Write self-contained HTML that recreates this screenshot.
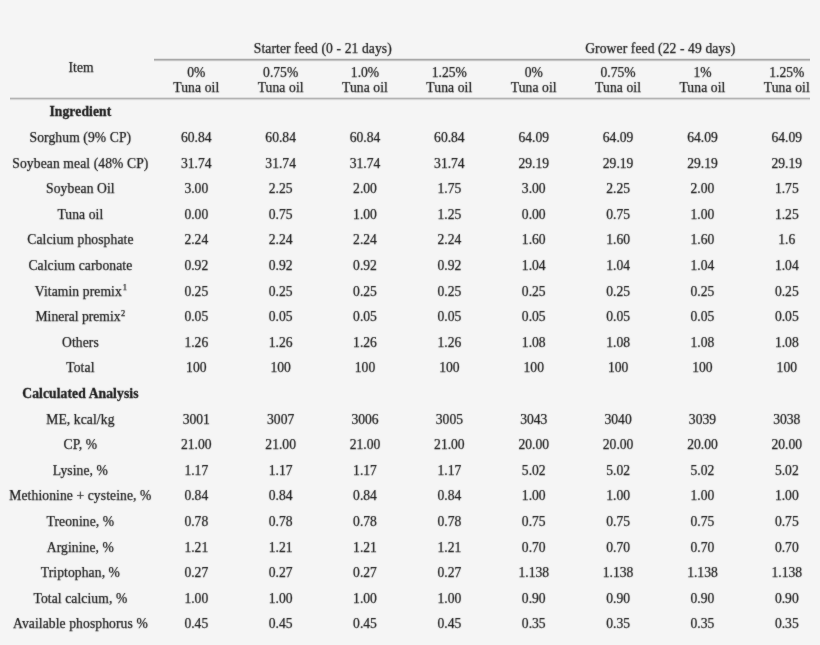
<!DOCTYPE html>
<html><head><meta charset="utf-8"><title>Diet composition table</title><style>
html,body{margin:0;padding:0;background:#f5f5f5}
body{width:820px;height:645px;position:relative;overflow:hidden;font-family:"Liberation Serif",serif;font-size:13.6px;color:#1a1a1a}
#w{position:absolute;left:0;top:0;width:820px;height:645px;filter:url(#soft)}
.c{position:absolute;height:16px;line-height:16px;text-align:center;white-space:nowrap;-webkit-text-stroke:0.25px #1a1a1a}
.c sup{font-size:0.62em;vertical-align:0;position:relative;top:-0.6em;margin-left:1px}
.ln{position:absolute;height:1px}
.l{letter-spacing:0.1px}
.c b{-webkit-text-stroke:0.3px #1a1a1a}

</style></head><body>
<svg width="0" height="0" style="position:absolute"><filter id="soft" x="0" y="0" width="1" height="1" color-interpolation-filters="sRGB"><feConvolveMatrix order="3" kernelMatrix="1 2 1 2 28 2 1 2 1" edgeMode="duplicate"/></filter></svg>
<div class="ln" style="left:154px;top:58px;width:656px;background:#e2e2e2"></div>
<div class="ln" style="left:154px;top:59px;width:656px;background:#a8a8a8"></div>
<div class="ln" style="left:154px;top:60px;width:656px;background:#c4c4c4"></div>
<div class="ln" style="left:154px;top:61px;width:656px;background:#ececec"></div>
<div class="ln" style="left:10px;top:97px;width:800px;background:#dedede"></div>
<div class="ln" style="left:10px;top:98px;width:800px;background:#b3b3b3"></div>
<div class="ln" style="left:10px;top:99px;width:800px;background:#d6d6d6"></div>
<div class="ln" style="left:10px;top:100px;width:800px;background:#f0f0f0"></div>
<div id="w">
<div class="c l" style="left:21.10px;top:60.00px;width:120px">Item</div>
<div class="c l" style="left:222.84px;top:41.00px;width:200px">Starter feed (0 - 21 days)</div>
<div class="c l" style="left:560.28px;top:41.00px;width:200px">Grower feed (22 - 49 days)</div>
<div class="c" style="left:156.30px;top:65.00px;width:80px">0%</div>
<div class="c l" style="left:156.30px;top:80.00px;width:80px">Tuna oil</div>
<div class="c" style="left:240.66px;top:65.00px;width:80px">0.75%</div>
<div class="c l" style="left:240.66px;top:80.00px;width:80px">Tuna oil</div>
<div class="c" style="left:325.02px;top:65.00px;width:80px">1.0%</div>
<div class="c l" style="left:325.02px;top:80.00px;width:80px">Tuna oil</div>
<div class="c" style="left:409.38px;top:65.00px;width:80px">1.25%</div>
<div class="c l" style="left:409.38px;top:80.00px;width:80px">Tuna oil</div>
<div class="c" style="left:493.74px;top:65.00px;width:80px">0%</div>
<div class="c l" style="left:493.74px;top:80.00px;width:80px">Tuna oil</div>
<div class="c" style="left:578.10px;top:65.00px;width:80px">0.75%</div>
<div class="c l" style="left:578.10px;top:80.00px;width:80px">Tuna oil</div>
<div class="c" style="left:662.46px;top:65.00px;width:80px">1%</div>
<div class="c l" style="left:662.46px;top:80.00px;width:80px">Tuna oil</div>
<div class="c" style="left:746.82px;top:65.00px;width:80px">1.25%</div>
<div class="c l" style="left:746.82px;top:80.00px;width:80px">Tuna oil</div>
<div class="c l" style="left:20.40px;top:104.00px;width:120px"><b>Ingredient</b></div>
<div class="c l" style="left:0.40px;top:130.00px;width:160px">Sorghum (9% CP)</div>
<div class="c" style="left:156.30px;top:130.00px;width:80px">60.84</div>
<div class="c" style="left:240.66px;top:130.00px;width:80px">60.84</div>
<div class="c" style="left:325.02px;top:130.00px;width:80px">60.84</div>
<div class="c" style="left:409.38px;top:130.00px;width:80px">60.84</div>
<div class="c" style="left:493.74px;top:130.00px;width:80px">64.09</div>
<div class="c" style="left:578.10px;top:130.00px;width:80px">64.09</div>
<div class="c" style="left:662.46px;top:130.00px;width:80px">64.09</div>
<div class="c" style="left:746.82px;top:130.00px;width:80px">64.09</div>
<div class="c l" style="left:0.40px;top:156.00px;width:160px">Soybean meal (48% CP)</div>
<div class="c" style="left:156.30px;top:156.00px;width:80px">31.74</div>
<div class="c" style="left:240.66px;top:156.00px;width:80px">31.74</div>
<div class="c" style="left:325.02px;top:156.00px;width:80px">31.74</div>
<div class="c" style="left:409.38px;top:156.00px;width:80px">31.74</div>
<div class="c" style="left:493.74px;top:156.00px;width:80px">29.19</div>
<div class="c" style="left:578.10px;top:156.00px;width:80px">29.19</div>
<div class="c" style="left:662.46px;top:156.00px;width:80px">29.19</div>
<div class="c" style="left:746.82px;top:156.00px;width:80px">29.19</div>
<div class="c l" style="left:0.40px;top:181.00px;width:160px">Soybean Oil</div>
<div class="c" style="left:156.30px;top:181.00px;width:80px">3.00</div>
<div class="c" style="left:240.66px;top:181.00px;width:80px">2.25</div>
<div class="c" style="left:325.02px;top:181.00px;width:80px">2.00</div>
<div class="c" style="left:409.38px;top:181.00px;width:80px">1.75</div>
<div class="c" style="left:493.74px;top:181.00px;width:80px">3.00</div>
<div class="c" style="left:578.10px;top:181.00px;width:80px">2.25</div>
<div class="c" style="left:662.46px;top:181.00px;width:80px">2.00</div>
<div class="c" style="left:746.82px;top:181.00px;width:80px">1.75</div>
<div class="c l" style="left:0.40px;top:207.00px;width:160px">Tuna oil</div>
<div class="c" style="left:156.30px;top:207.00px;width:80px">0.00</div>
<div class="c" style="left:240.66px;top:207.00px;width:80px">0.75</div>
<div class="c" style="left:325.02px;top:207.00px;width:80px">1.00</div>
<div class="c" style="left:409.38px;top:207.00px;width:80px">1.25</div>
<div class="c" style="left:493.74px;top:207.00px;width:80px">0.00</div>
<div class="c" style="left:578.10px;top:207.00px;width:80px">0.75</div>
<div class="c" style="left:662.46px;top:207.00px;width:80px">1.00</div>
<div class="c" style="left:746.82px;top:207.00px;width:80px">1.25</div>
<div class="c l" style="left:0.40px;top:232.00px;width:160px">Calcium phosphate</div>
<div class="c" style="left:156.30px;top:232.00px;width:80px">2.24</div>
<div class="c" style="left:240.66px;top:232.00px;width:80px">2.24</div>
<div class="c" style="left:325.02px;top:232.00px;width:80px">2.24</div>
<div class="c" style="left:409.38px;top:232.00px;width:80px">2.24</div>
<div class="c" style="left:493.74px;top:232.00px;width:80px">1.60</div>
<div class="c" style="left:578.10px;top:232.00px;width:80px">1.60</div>
<div class="c" style="left:662.46px;top:232.00px;width:80px">1.60</div>
<div class="c" style="left:746.82px;top:232.00px;width:80px">1.6</div>
<div class="c l" style="left:0.40px;top:258.00px;width:160px">Calcium carbonate</div>
<div class="c" style="left:156.30px;top:258.00px;width:80px">0.92</div>
<div class="c" style="left:240.66px;top:258.00px;width:80px">0.92</div>
<div class="c" style="left:325.02px;top:258.00px;width:80px">0.92</div>
<div class="c" style="left:409.38px;top:258.00px;width:80px">0.92</div>
<div class="c" style="left:493.74px;top:258.00px;width:80px">1.04</div>
<div class="c" style="left:578.10px;top:258.00px;width:80px">1.04</div>
<div class="c" style="left:662.46px;top:258.00px;width:80px">1.04</div>
<div class="c" style="left:746.82px;top:258.00px;width:80px">1.04</div>
<div class="c l" style="left:1.00px;top:284.00px;width:160px">Vitamin premix<sup style="top:-0.7em">1</sup></div>
<div class="c" style="left:156.30px;top:284.00px;width:80px">0.25</div>
<div class="c" style="left:240.66px;top:284.00px;width:80px">0.25</div>
<div class="c" style="left:325.02px;top:284.00px;width:80px">0.25</div>
<div class="c" style="left:409.38px;top:284.00px;width:80px">0.25</div>
<div class="c" style="left:493.74px;top:284.00px;width:80px">0.25</div>
<div class="c" style="left:578.10px;top:284.00px;width:80px">0.25</div>
<div class="c" style="left:662.46px;top:284.00px;width:80px">0.25</div>
<div class="c" style="left:746.82px;top:284.00px;width:80px">0.25</div>
<div class="c l" style="left:0.40px;top:309.00px;width:160px"><span style="letter-spacing:0">Mineral premix</span><sup style="margin-left:0.5px">2</sup></div>
<div class="c" style="left:156.30px;top:309.00px;width:80px">0.05</div>
<div class="c" style="left:240.66px;top:309.00px;width:80px">0.05</div>
<div class="c" style="left:325.02px;top:309.00px;width:80px">0.05</div>
<div class="c" style="left:409.38px;top:309.00px;width:80px">0.05</div>
<div class="c" style="left:493.74px;top:309.00px;width:80px">0.05</div>
<div class="c" style="left:578.10px;top:309.00px;width:80px">0.05</div>
<div class="c" style="left:662.46px;top:309.00px;width:80px">0.05</div>
<div class="c" style="left:746.82px;top:309.00px;width:80px">0.05</div>
<div class="c l" style="left:0.40px;top:335.00px;width:160px">Others</div>
<div class="c" style="left:156.30px;top:335.00px;width:80px">1.26</div>
<div class="c" style="left:240.66px;top:335.00px;width:80px">1.26</div>
<div class="c" style="left:325.02px;top:335.00px;width:80px">1.26</div>
<div class="c" style="left:409.38px;top:335.00px;width:80px">1.26</div>
<div class="c" style="left:493.74px;top:335.00px;width:80px">1.08</div>
<div class="c" style="left:578.10px;top:335.00px;width:80px">1.08</div>
<div class="c" style="left:662.46px;top:335.00px;width:80px">1.08</div>
<div class="c" style="left:746.82px;top:335.00px;width:80px">1.08</div>
<div class="c l" style="left:0.40px;top:360.00px;width:160px">Total</div>
<div class="c" style="left:156.30px;top:360.00px;width:80px">100</div>
<div class="c" style="left:240.66px;top:360.00px;width:80px">100</div>
<div class="c" style="left:325.02px;top:360.00px;width:80px">100</div>
<div class="c" style="left:409.38px;top:360.00px;width:80px">100</div>
<div class="c" style="left:493.74px;top:360.00px;width:80px">100</div>
<div class="c" style="left:578.10px;top:360.00px;width:80px">100</div>
<div class="c" style="left:662.46px;top:360.00px;width:80px">100</div>
<div class="c" style="left:746.82px;top:360.00px;width:80px">100</div>
<div class="c l" style="left:0.40px;top:386.00px;width:160px"><b>Calculated Analysis</b></div>
<div class="c l" style="left:0.40px;top:412.00px;width:160px">ME, kcal/kg</div>
<div class="c" style="left:156.30px;top:412.00px;width:80px">3001</div>
<div class="c" style="left:240.66px;top:412.00px;width:80px">3007</div>
<div class="c" style="left:325.02px;top:412.00px;width:80px">3006</div>
<div class="c" style="left:409.38px;top:412.00px;width:80px">3005</div>
<div class="c" style="left:493.74px;top:412.00px;width:80px">3043</div>
<div class="c" style="left:578.10px;top:412.00px;width:80px">3040</div>
<div class="c" style="left:662.46px;top:412.00px;width:80px">3039</div>
<div class="c" style="left:746.82px;top:412.00px;width:80px">3038</div>
<div class="c l" style="left:0.40px;top:437.00px;width:160px">CP, %</div>
<div class="c" style="left:156.30px;top:437.00px;width:80px">21.00</div>
<div class="c" style="left:240.66px;top:437.00px;width:80px">21.00</div>
<div class="c" style="left:325.02px;top:437.00px;width:80px">21.00</div>
<div class="c" style="left:409.38px;top:437.00px;width:80px">21.00</div>
<div class="c" style="left:493.74px;top:437.00px;width:80px">20.00</div>
<div class="c" style="left:578.10px;top:437.00px;width:80px">20.00</div>
<div class="c" style="left:662.46px;top:437.00px;width:80px">20.00</div>
<div class="c" style="left:746.82px;top:437.00px;width:80px">20.00</div>
<div class="c l" style="left:0.40px;top:463.00px;width:160px">Lysine, %</div>
<div class="c" style="left:156.30px;top:463.00px;width:80px">1.17</div>
<div class="c" style="left:240.66px;top:463.00px;width:80px">1.17</div>
<div class="c" style="left:325.02px;top:463.00px;width:80px">1.17</div>
<div class="c" style="left:409.38px;top:463.00px;width:80px">1.17</div>
<div class="c" style="left:493.74px;top:463.00px;width:80px">5.02</div>
<div class="c" style="left:578.10px;top:463.00px;width:80px">5.02</div>
<div class="c" style="left:662.46px;top:463.00px;width:80px">5.02</div>
<div class="c" style="left:746.82px;top:463.00px;width:80px">5.02</div>
<div class="c l" style="left:0.40px;top:488.00px;width:160px">Methionine + cysteine, %</div>
<div class="c" style="left:156.30px;top:488.00px;width:80px">0.84</div>
<div class="c" style="left:240.66px;top:488.00px;width:80px">0.84</div>
<div class="c" style="left:325.02px;top:488.00px;width:80px">0.84</div>
<div class="c" style="left:409.38px;top:488.00px;width:80px">0.84</div>
<div class="c" style="left:493.74px;top:488.00px;width:80px">1.00</div>
<div class="c" style="left:578.10px;top:488.00px;width:80px">1.00</div>
<div class="c" style="left:662.46px;top:488.00px;width:80px">1.00</div>
<div class="c" style="left:746.82px;top:488.00px;width:80px">1.00</div>
<div class="c l" style="left:0.40px;top:514.00px;width:160px">Treonine, %</div>
<div class="c" style="left:156.30px;top:514.00px;width:80px">0.78</div>
<div class="c" style="left:240.66px;top:514.00px;width:80px">0.78</div>
<div class="c" style="left:325.02px;top:514.00px;width:80px">0.78</div>
<div class="c" style="left:409.38px;top:514.00px;width:80px">0.78</div>
<div class="c" style="left:493.74px;top:514.00px;width:80px">0.75</div>
<div class="c" style="left:578.10px;top:514.00px;width:80px">0.75</div>
<div class="c" style="left:662.46px;top:514.00px;width:80px">0.75</div>
<div class="c" style="left:746.82px;top:514.00px;width:80px">0.75</div>
<div class="c l" style="left:0.40px;top:540.00px;width:160px">Arginine, %</div>
<div class="c" style="left:156.30px;top:540.00px;width:80px">1.21</div>
<div class="c" style="left:240.66px;top:540.00px;width:80px">1.21</div>
<div class="c" style="left:325.02px;top:540.00px;width:80px">1.21</div>
<div class="c" style="left:409.38px;top:540.00px;width:80px">1.21</div>
<div class="c" style="left:493.74px;top:540.00px;width:80px">0.70</div>
<div class="c" style="left:578.10px;top:540.00px;width:80px">0.70</div>
<div class="c" style="left:662.46px;top:540.00px;width:80px">0.70</div>
<div class="c" style="left:746.82px;top:540.00px;width:80px">0.70</div>
<div class="c l" style="left:0.40px;top:565.00px;width:160px">Triptophan, %</div>
<div class="c" style="left:156.30px;top:565.00px;width:80px">0.27</div>
<div class="c" style="left:240.66px;top:565.00px;width:80px">0.27</div>
<div class="c" style="left:325.02px;top:565.00px;width:80px">0.27</div>
<div class="c" style="left:409.38px;top:565.00px;width:80px">0.27</div>
<div class="c" style="left:493.74px;top:565.00px;width:80px">1.138</div>
<div class="c" style="left:578.10px;top:565.00px;width:80px">1.138</div>
<div class="c" style="left:662.46px;top:565.00px;width:80px">1.138</div>
<div class="c" style="left:746.82px;top:565.00px;width:80px">1.138</div>
<div class="c l" style="left:0.40px;top:591.00px;width:160px">Total calcium, %</div>
<div class="c" style="left:156.30px;top:591.00px;width:80px">1.00</div>
<div class="c" style="left:240.66px;top:591.00px;width:80px">1.00</div>
<div class="c" style="left:325.02px;top:591.00px;width:80px">1.00</div>
<div class="c" style="left:409.38px;top:591.00px;width:80px">1.00</div>
<div class="c" style="left:493.74px;top:591.00px;width:80px">0.90</div>
<div class="c" style="left:578.10px;top:591.00px;width:80px">0.90</div>
<div class="c" style="left:662.46px;top:591.00px;width:80px">0.90</div>
<div class="c" style="left:746.82px;top:591.00px;width:80px">0.90</div>
<div class="c l" style="left:0.40px;top:616.00px;width:160px">Available phosphorus %</div>
<div class="c" style="left:156.30px;top:616.00px;width:80px">0.45</div>
<div class="c" style="left:240.66px;top:616.00px;width:80px">0.45</div>
<div class="c" style="left:325.02px;top:616.00px;width:80px">0.45</div>
<div class="c" style="left:409.38px;top:616.00px;width:80px">0.45</div>
<div class="c" style="left:493.74px;top:616.00px;width:80px">0.35</div>
<div class="c" style="left:578.10px;top:616.00px;width:80px">0.35</div>
<div class="c" style="left:662.46px;top:616.00px;width:80px">0.35</div>
<div class="c" style="left:746.82px;top:616.00px;width:80px">0.35</div>
</div>
</body></html>
